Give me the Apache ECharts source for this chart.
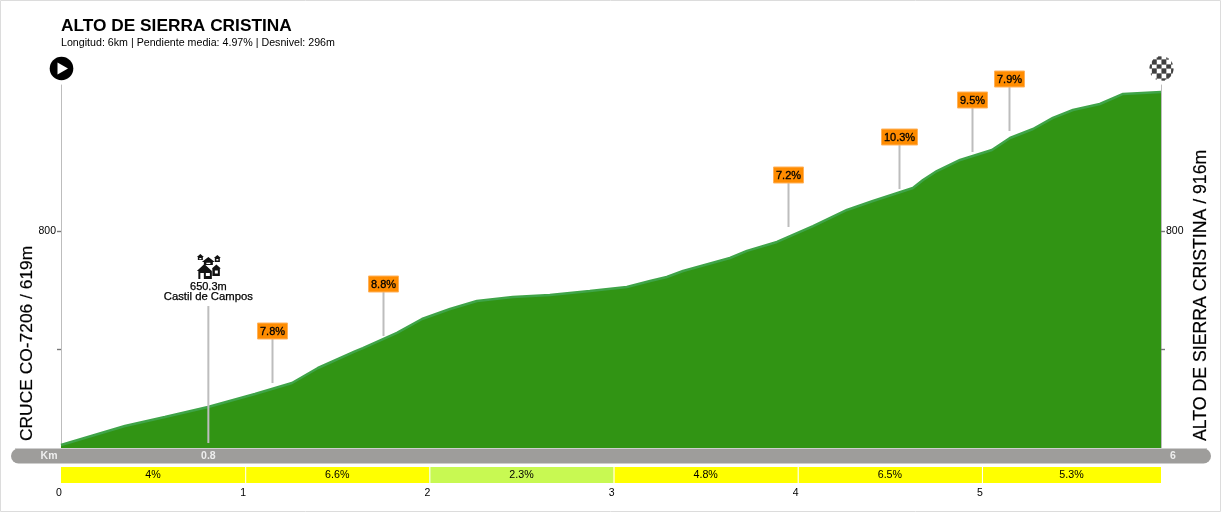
<!DOCTYPE html>
<html><head><meta charset="utf-8">
<style>html,body{margin:0;padding:0;background:#fff}#c{width:1222px;height:512px}</style>
<script src="https://cdn.jsdelivr.net/npm/echarts@6/dist/echarts.min.js"></script>
</head><body><div id="c"></div>
<script>
const titleText = 'ALTO DE SIERRA CRISTINA';
const subtitleText = 'Longitud: 6km | Pendiente media: 4.97% | Desnivel: 296m';
const startLabel = 'CRUCE CO-7206 / 619m';
const endLabel = 'ALTO DE SIERRA CRISTINA / 916m';
const profileKm = [0,0.347,0.564,0.798,1.053,1.254,1.395,1.596,1.639,1.824,1.96,2.112,2.258,2.453,2.654,2.871,3.072,3.198,3.289,3.377,3.632,3.724,3.887,4.083,4.267,4.408,4.625,4.68,4.755,4.881,5.054,5.152,5.277,5.385,5.494,5.64,5.766,5.972];
const profileM  = [618.6,634.7,642.4,650.8,661.9,671.2,683.9,697.9,700.8,713.6,725.4,733.9,740.7,744.1,745.8,749.2,752.5,757.6,761,766.1,777.1,783.1,790.7,804.2,817.8,825.4,836.4,843.2,850.8,860.2,868.6,878.8,886.4,895.8,902.5,907.6,916.1,917.8];
const flagKm = [1.146,1.748,3.946,4.549,4.946,5.147];
const flagM = [671.2,711,803.4,835.6,867,884.7];
const flagText = ['7.8%','8.8%','7.2%','10.3%','9.5%','7.9%'];
const segFrom = [0,1,2,3,4,5];
const segTo = [1,2,3,4,5,5.972];
const segText = ['4%','6.6%','2.3%','4.8%','6.5%','5.3%'];
const segColor = ['#ffff00','#ffff00','#c8f952','#ffff00','#ffff00','#ffff00'];
const xTicks = [0,1,2,3,4,5];
const xMax = 5.972;
const kmBandPos = [-0.065,0.8,6.037];
const kmBandText = ['Km','0.8','6'];
const yMin = 616.1, yMax = 923.7;
const yTicks = [700,800];
const yLabels = [800];
const placeKm = [0.8];
const placeBaseM = [620.3];
const placeTopM = [736.4];
const placeText = ['650.3m'];
const placeName = ['Castil de Campos'];

const font = '"Liberation Sans", Arial, sans-serif';
const villagePath = 'M0 3 L3.5 0 L7 3 Z M1 3 H6 V6 H1 Z M2.5 4 V5.2 H4.5 V4 Z '
  + 'M17 4 L20.5 1 L24 4 Z M18 4 H23 V8 H18 Z M19.5 5 V6.5 H21.5 V5 Z '
  + 'M5 8 L11.5 3 L18 8 Z M7 8 H16 V11 H7 Z M9.5 8.7 V10 H13.5 V8.7 Z '
  + 'M15 14.5 L19.5 10.5 L24 14.5 Z M15.5 14.5 H23 V22 H15.5 Z M18 16.5 V19.5 H21 V16.5 Z '
  + 'M0 17 L7.5 10 L15 17 Z M1.5 17 H15 V25 H1.5 Z M3.5 19 V25 H7 V19 Z M9 19 V22 H13 V19 Z';
function checker(cx, cy, r, s){
  const kids=[{type:'circle',shape:{cx,cy,r},style:{fill:'#fff'}}];
  for(let row=-r;row<r;row++){
    const half=Math.sqrt(r*r-(row+.5)*(row+.5));
    const j=Math.floor(row/s);
    for(let i=-4;i<4;i++){
      if((i+j)&1)continue;
      const a=Math.max(i*s,-half),b=Math.min((i+1)*s,half);
      if(b>a)kids.push({type:'rect',shape:{x:cx+a,y:cy+row,width:b-a,height:1},style:{fill:'#000'}});
    }
  }
  return kids;
}
const chart = echarts.init(document.getElementById('c'),null,{renderer:'canvas'});
const axisGray='#bdbdbd';
const tickStyle={color:'#777',width:1.4};
chart.setOption({
  animation:false,
  backgroundColor:'#fff',
  title:[{text:titleText,left:61,top:18,padding:0,itemGap:3,
    textStyle:{fontFamily:font,fontSize:17.3,fontWeight:'bold',color:'#000'},
    subtext:subtitleText,
    subtextStyle:{fontFamily:font,fontSize:10.66,color:'#000'}}],
  grid:[
    {left:61,right:61,top:85,height:363},
    {left:61,right:61,top:467,height:16}
  ],
  xAxis:[
    {gridIndex:0,type:'value',min:0,max:xMax,axisLabel:{show:false},axisTick:{show:false},splitLine:{show:false},axisLine:{show:false}},
    {gridIndex:1,type:'value',min:0,max:xMax,splitLine:{show:false},axisLine:{show:false},axisTick:{show:false},
      axisLabel:{customValues:xTicks,margin:5,fontFamily:font,fontSize:10.5,color:'#000',padding:[0,4,0,0],hideOverlap:false,showMinLabel:true}}
  ],
  yAxis:[
    {gridIndex:0,type:'value',position:'left',min:yMin,max:yMax,splitLine:{show:false},
      axisLine:{show:true,lineStyle:{color:axisGray,width:1}},
      axisTick:{show:true,length:4,customValues:yTicks,lineStyle:tickStyle},
      axisLabel:{customValues:yLabels,margin:5,fontFamily:font,fontSize:10.5,color:'#000'}},
    {gridIndex:0,type:'value',position:'right',min:yMin,max:yMax,splitLine:{show:false},
      axisLine:{show:true,lineStyle:{color:axisGray,width:1}},
      axisTick:{show:true,length:4,customValues:yTicks,lineStyle:tickStyle},
      axisLabel:{customValues:yLabels,margin:5,fontFamily:font,fontSize:10.5,color:'#000'}},
    {gridIndex:1,type:'value',min:0,max:1,show:false}
  ],
  series:[
    {type:'line',xAxisIndex:0,yAxisIndex:0,symbol:'none',smooth:false,z:3,
      data:profileKm.map((k,i)=>[k,profileM[i]]),
      lineStyle:{color:'#3fa448',width:2.5},
      areaStyle:{color:'#319414',opacity:1,origin:'start'}},
    {type:'custom',xAxisIndex:0,yAxisIndex:0,z:5,clip:false,coordinateSystem:'cartesian2d',
      data:flagKm.map((k,i)=>[k,flagM[i],flagText[i]]),
      encode:{x:0,y:1},
      renderItem(p,api){
        const [x,y]=api.coord([api.value(0),api.value(1)]);
        const t=flagText[p.dataIndex];
        const w=t.length>4?36:30, px=Math.round(x), py=Math.round(y);
        return {type:'group',children:[
          {type:'line',shape:{x1:px+.5,y1:py-44,x2:px+.5,y2:py},style:{stroke:'#bdbdbd',lineWidth:2}},
          {type:'rect',shape:{x:px-w/2+.5,y:py-60,width:w,height:16},style:{fill:'#ff8c00',stroke:'#ffb25c',lineWidth:1}},
          {type:'text',x:px+.5,y:py-51,style:{text:t,fill:'#000',font:'11px '+font,align:'center',verticalAlign:'middle',stroke:'#000',lineWidth:0.3}}
        ]};
      }},
    {type:'custom',xAxisIndex:0,yAxisIndex:0,z:6,clip:false,
      data:placeKm.map((k,i)=>[k,placeBaseM[i],placeTopM[i]]),
      encode:{x:0,y:1},
      renderItem(p,api){
        const [x,y1]=api.coord([api.value(0),api.value(1)]);
        const [,y0]=api.coord([api.value(0),api.value(2)]);
        const i=p.dataIndex;
        return {type:'group',children:[
          {type:'line',shape:{x1:x,y1:y0,x2:x,y2:y1},style:{stroke:'#bdbdbd',lineWidth:2}},
          {type:'text',x:x,y:y0-19,style:{text:placeText[i],fill:'#000',font:'11px '+font,align:'center',verticalAlign:'middle',stroke:'#000',lineWidth:0.25}},
          {type:'text',x:x,y:y0-9,style:{text:placeName[i],fill:'#000',font:'11.3px '+font,align:'center',verticalAlign:'middle',stroke:'#000',lineWidth:0.25}},
          {type:'path',shape:{pathData:villagePath,layout:'cover',x:x-11.5,y:y0-52,width:24,height:25},style:{fill:'#111'}}
        ]};
      }},
    {type:'custom',xAxisIndex:1,yAxisIndex:2,z:4,clip:false,
      data:segFrom.map((f,i)=>[f,segTo[i],0,1]),
      encode:{x:[0,1],y:[2,3]},
      renderItem(p,api){
        const a=api.coord([api.value(0),1]),b=api.coord([api.value(1),0]);
        const i=p.dataIndex;
        return {type:'group',children:[
          {type:'rect',shape:{x:a[0],y:a[1],width:b[0]-a[0],height:b[1]-a[1]},style:{fill:segColor[i]}},
          i>0?{type:'line',shape:{x1:a[0]+.5,y1:a[1],x2:a[0]+.5,y2:b[1]},style:{stroke:'#fff',lineWidth:1}}:{type:'group',children:[]},
          {type:'text',x:(a[0]+b[0])/2,y:(a[1]+b[1])/2,style:{text:segText[i],fill:'#000',font:'10.7px '+font,align:'center',verticalAlign:'middle'}}
        ]};
      }},
    {type:'custom',xAxisIndex:0,yAxisIndex:0,z:7,clip:false,
      data:kmBandPos.map((k)=>[k,yMin]),
      encode:{x:0,y:1},
      renderItem(p,api){
        const [x,y]=api.coord([api.value(0),api.value(1)]);
        return {type:'text',x:x,y:y+8,style:{text:kmBandText[p.dataIndex],fill:'#eeeeee',font:'bold 10.5px '+font,align:'center',verticalAlign:'middle'}};
      }}
  ],
  graphic:[
    {type:'rect',z:-1,shape:{x:0.5,y:0.5,width:1220,height:511},style:{fill:'none',stroke:'#dcdcdc',lineWidth:1}},
    {type:'rect',z:1,shape:{x:11,y:448.5,width:1200,height:15,r:7.5},style:{fill:'#9e9d9b'}},
    {type:'line',z:1,shape:{x1:15,y1:448.5,x2:1207,y2:448.5},style:{stroke:'#cfcfcf',lineWidth:1}},
    {type:'text',z:10,x:27,y:441,rotation:Math.PI/2,style:{text:startLabel,fill:'#000',font:'17.4px '+font,align:'left',verticalAlign:'middle',stroke:'#000',lineWidth:0.2}},
    {type:'text',z:10,x:1201,y:441,rotation:Math.PI/2,style:{text:endLabel,fill:'#000',font:'17.7px '+font,align:'left',verticalAlign:'middle',stroke:'#000',lineWidth:0.2}},
    {type:'group',z:10,children:[
      {type:'circle',shape:{cx:61.5,cy:68.5,r:11.8},style:{fill:'#000'}},
      {type:'polygon',shape:{points:[[57.5,62.5],[57.5,74.5],[68,68.5]]},style:{fill:'#fff'}}
    ]},
    {type:'group',z:10,children:checker(1161.5,68.5,12,4.8)}
  ]
});
</script></body></html>
